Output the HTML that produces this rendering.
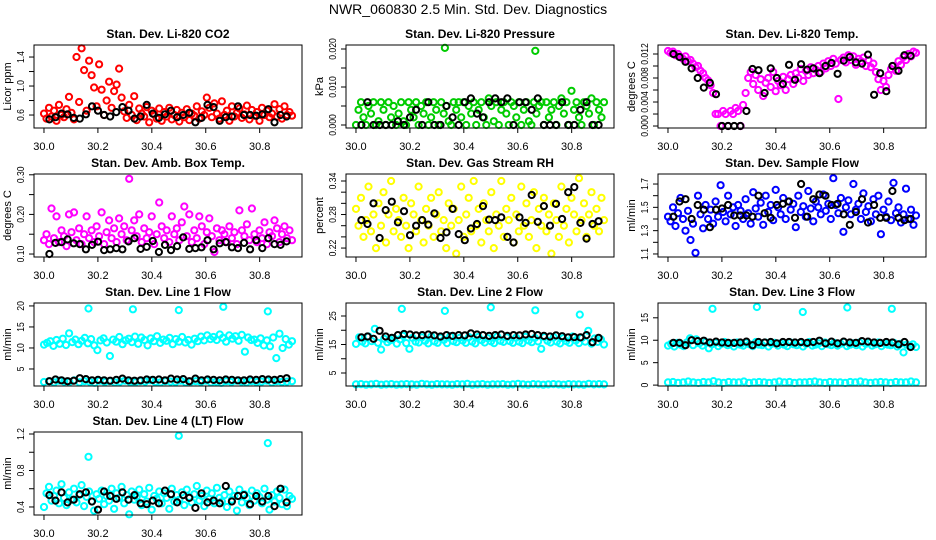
<!DOCTYPE html>
<html><head><meta charset="utf-8"><title>NWR_060830 diagnostics</title>
<style>
html,body{margin:0;padding:0;background:#fff;}
svg{display:block;font-family:"Liberation Sans",Arial,sans-serif;}
</style></head>
<body>
<svg id="chart" width="936" height="540" viewBox="0 0 936 540" xmlns="http://www.w3.org/2000/svg">
<rect x="0" y="0" width="936" height="540" fill="#fff"/>
<text x="468" y="14" text-anchor="middle" font-size="14">NWR_060830  2.5 Min. Std. Dev. Diagnostics</text>
</svg>
<script>
// ---------- data ----------
const xTicks=[30.0,30.2,30.4,30.6,30.8];
const xTickLabels=["30.0","30.2","30.4","30.6","30.8"];

const co2Main=[0.62,0.55,0.70,0.58,0.66,0.52,0.74,0.60,0.57,0.68,0.85,0.63,0.54,1.40,0.78,1.52,1.22,0.66,1.35,1.15,0.98,0.72,1.30,0.95,0.60,0.80,1.06,0.70,0.93,1.02,1.24,0.84,0.65,0.56,0.74,0.60,0.86,0.53,0.69,0.62,0.58,0.71,0.50,0.66,0.61,0.55,0.69,0.52,0.64,0.58,0.70,0.54,0.60,0.67,0.51,0.63,0.57,0.68,0.53,0.62,0.59,0.72,0.55,0.65,0.60,0.84,0.70,0.57,0.76,0.62,0.55,0.79,0.60,0.66,0.52,0.72,0.58,0.63,0.69,0.56,0.61,0.73,0.54,0.67,0.59,0.64,0.52,0.70,0.60,0.66,0.57,0.62,0.75,0.58,0.68,0.55,0.72,0.60,0.64,0.59];
const co2Black=[0.54,0.57,0.62,0.61,0.56,0.55,0.61,0.72,0.66,0.60,0.58,0.64,0.71,0.66,0.55,0.58,0.74,0.62,0.56,0.61,0.66,0.57,0.60,0.63,0.50,0.56,0.74,0.71,0.52,0.57,0.58,0.72,0.60,0.60,0.59,0.61,0.68,0.50,0.60,0.58];
const co2Ticks=[0.6,0.8,1.0,1.2,1.4];
const co2Labels=["0.6","","1.0","","1.4"];

const presMain=[0.000,0.004,0.006,0.002,0.000,0.005,0.003,0.006,0.000,0.001,0.006,0.004,0.000,0.006,0.002,0.005,0.000,0.003,0.006,0.001,0.000,0.006,0.004,0.002,0.006,0.000,0.005,0.003,0.006,0.000,0.002,0.006,0.004,0.000,0.006,0.003,0.005,0.001,0.000,0.006,0.004,0.006,0.002,0.006,0.000,0.005,0.003,0.006,0.000,0.004,0.006,0.002,0.000,0.007,0.005,0.001,0.006,0.000,0.004,0.006,0.003,0.000,0.006,0.005,0.002,0.006,0.000,0.004,0.006,0.001,0.000,0.006,0.003,0.005,0.006,0.000,0.006,0.002,0.004,0.006,0.000,0.005,0.007,0.003,0.006,0.000,0.009,0.004,0.006,0.002,0.000,0.006,0.005,0.003,0.007,0.000,0.006,0.004,0.002,0.006];
const presSpikeT=[30.33,30.665];
const presSpikeV=[0.0203,0.0195];
const presBlack=[0,0.006,0,0,0,0,0.001,0,0.002,0.004,0,0.006,0,0,0.005,0.002,0,0.006,0.007,0.003,0.002,0.006,0.007,0.006,0.007,0,0.006,0.006,0.004,0.007,0,0,0,0.006,0,0,0.004,0.006,0,0];
const presTicks=[0,0.005,0.010,0.015,0.020];
const presLabels=["0.000","","0.010","","0.020"];

const tempMain=[0.0125,0.0122,0.0124,0.0118,0.0120,0.0115,0.0112,0.0116,0.0108,0.0110,0.0104,0.0098,0.0100,0.0092,0.0088,0.0080,0.0076,0.0068,0.0055,0.0020,0.0020,0.0000,0.0025,0.0020,0.0000,0.0025,0.0020,0.0030,0.0025,0.0000,0.0035,0.0055,0.0080,0.0090,0.0070,0.0085,0.0060,0.0078,0.0050,0.0072,0.0080,0.0065,0.0090,0.0058,0.0075,0.0068,0.0082,0.0060,0.0078,0.0085,0.0070,0.0088,0.0080,0.0095,0.0075,0.0092,0.0085,0.0098,0.0088,0.0094,0.0100,0.0090,0.0104,0.0096,0.0108,0.0100,0.0112,0.0104,0.0045,0.0110,0.0114,0.0106,0.0118,0.0110,0.0116,0.0102,0.0112,0.0108,0.0114,0.0100,0.0110,0.0098,0.0104,0.0090,0.0078,0.0060,0.0075,0.0065,0.0085,0.0095,0.0100,0.0092,0.0108,0.0102,0.0115,0.0110,0.0120,0.0116,0.0124,0.0122];
const tempBlack=[0.0120,0.0115,0.0107,0.0096,0.0080,0.0064,0.0072,0.0053,0.0000,0.0000,0.0000,0.0000,0.0025,0.0095,0.0093,0.0055,0.0096,0.0080,0.0070,0.0102,0.0077,0.0103,0.0094,0.0096,0.0088,0.0100,0.0105,0.0087,0.0109,0.0115,0.0106,0.0104,0.0119,0.0052,0.0088,0.0058,0.0100,0.0092,0.0118,0.0117];
const tempTicks=[0,0.002,0.004,0.006,0.008,0.010,0.012];
const tempLabels=["0.000","","0.004","","0.008","","0.012"];

const ambMain=[0.135,0.150,0.125,0.215,0.140,0.195,0.130,0.160,0.145,0.120,0.200,0.155,0.205,0.135,0.165,0.125,0.150,0.195,0.140,0.160,0.130,0.170,0.145,0.205,0.125,0.155,0.185,0.140,0.165,0.130,0.190,0.150,0.170,0.135,0.290,0.160,0.185,0.145,0.200,0.130,0.165,0.140,0.155,0.195,0.125,0.150,0.230,0.170,0.140,0.160,0.130,0.195,0.150,0.165,0.135,0.180,0.220,0.145,0.200,0.130,0.160,0.140,0.195,0.170,0.125,0.155,0.190,0.145,0.105,0.165,0.135,0.160,0.150,0.130,0.170,0.140,0.155,0.125,0.210,0.160,0.145,0.175,0.135,0.215,0.150,0.130,0.160,0.140,0.180,0.125,0.155,0.145,0.185,0.165,0.130,0.150,0.170,0.140,0.160,0.135];
const ambBlack=[0.100,0.128,0.130,0.137,0.127,0.125,0.112,0.123,0.131,0.110,0.112,0.115,0.112,0.132,0.140,0.113,0.118,0.133,0.105,0.123,0.110,0.120,0.142,0.113,0.115,0.117,0.135,0.112,0.127,0.130,0.117,0.115,0.128,0.112,0.135,0.115,0.140,0.125,0.123,0.132];
const ambTicks=[0.10,0.15,0.20,0.25,0.30];
const ambLabels=["0.10","","0.20","","0.30"];

const rhMain=[0.29,0.26,0.31,0.24,0.27,0.33,0.25,0.28,0.22,0.30,0.26,0.32,0.23,0.28,0.34,0.25,0.29,0.27,0.24,0.31,0.26,0.22,0.30,0.28,0.25,0.33,0.27,0.23,0.29,0.26,0.31,0.24,0.28,0.32,0.25,0.27,0.22,0.30,0.26,0.29,0.21,0.27,0.33,0.24,0.28,0.31,0.25,0.34,0.26,0.29,0.23,0.30,0.27,0.25,0.32,0.22,0.28,0.26,0.34,0.24,0.29,0.27,0.31,0.23,0.28,0.25,0.33,0.26,0.30,0.24,0.27,0.32,0.22,0.29,0.26,0.31,0.25,0.28,0.21,0.30,0.27,0.24,0.33,0.26,0.29,0.23,0.31,0.28,0.25,0.345,0.27,0.30,0.24,0.28,0.32,0.26,0.29,0.25,0.31,0.27];
const rhBlack=[0.270,0.263,0.300,0.238,0.288,0.303,0.266,0.286,0.243,0.260,0.270,0.262,0.282,0.238,0.248,0.290,0.245,0.234,0.255,0.263,0.295,0.271,0.270,0.275,0.240,0.230,0.275,0.265,0.315,0.267,0.295,0.260,0.299,0.272,0.320,0.329,0.265,0.237,0.263,0.268];
const rhTicks=[0.22,0.24,0.26,0.28,0.30,0.32,0.34];
const rhLabels=["0.22","","","0.28","","","0.34"];

const flowMain=[1.42,1.38,1.50,1.34,1.45,1.58,1.40,1.30,1.47,1.22,1.36,1.11,1.60,1.44,1.32,1.52,1.40,1.48,1.36,1.55,1.42,1.69,1.46,1.38,1.60,1.44,1.50,1.34,1.52,1.47,1.40,1.57,1.45,1.36,1.63,1.49,1.42,1.54,1.35,1.60,1.46,1.52,1.39,1.65,1.50,1.44,1.58,1.40,1.55,1.48,1.53,1.33,1.60,1.46,1.51,1.42,1.64,1.49,1.38,1.55,1.50,1.44,1.61,1.47,1.53,1.40,1.75,1.52,1.45,1.58,1.29,1.50,1.56,1.44,1.70,1.48,1.53,1.40,1.62,1.46,1.51,1.38,1.57,1.44,1.60,1.27,1.48,1.42,1.55,1.39,1.71,1.45,1.50,1.37,1.44,1.66,1.40,1.48,1.35,1.43];
const flowBlack=[1.42,1.55,1.57,1.40,1.52,1.48,1.33,1.48,1.49,1.52,1.43,1.43,1.43,1.42,1.60,1.45,1.41,1.52,1.53,1.55,1.41,1.70,1.42,1.57,1.61,1.60,1.52,1.53,1.44,1.35,1.46,1.57,1.37,1.52,1.41,1.41,1.64,1.41,1.39,1.40];
const flowTicks=[1.1,1.2,1.3,1.4,1.5,1.6,1.7];
const flowLabels=["1.1","","1.3","","1.5","","1.7"];

const line1Upper=[10.8,11.2,11.6,10.5,11.9,11.0,12.2,10.7,13.5,11.4,12.0,10.9,11.7,12.4,11.1,12.1,10.6,9.5,11.8,12.3,11.3,8.1,12.0,11.5,12.6,10.9,11.8,12.2,11.4,12.7,11.0,12.5,11.9,10.6,12.3,11.6,12.8,11.2,12.0,11.7,12.4,10.9,12.1,11.5,12.6,11.3,11.9,10.8,12.2,11.6,12.7,11.8,13.0,12.1,12.6,11.9,13.2,12.4,11.5,13.0,12.2,12.8,11.7,13.1,9.1,12.5,11.9,12.0,11.2,12.3,10.6,11.8,10.4,12.5,7.6,13.4,10.0,12.1,10.8,11.6];
const line1Lower=[1.9,2.1,1.8,2.2,2.0,1.9,2.3,1.8,2.1,2.0,1.7,2.2,1.9,2.1,1.8,2.0,2.2,1.9,1.8,2.1,2.0,2.3,1.9,1.8,2.1,2.0,1.9,2.2,1.8,2.0,2.1,1.9,2.2,1.8,2.0,1.7,2.1,1.9,2.2,2.0,1.8,2.1,1.9,2.0,2.2,1.8,2.1,1.9,2.0,2.1];
const line1SpikeT=[30.165,30.33,30.50,30.665,30.83];
const line1SpikeV=[19.4,19.2,19.0,19.8,18.7];
const line1Black=[2.1,2.5,2.3,2.1,2.2,2.8,2.6,2.3,2.4,2.3,2.2,2.4,2.7,2.3,2.2,2.3,2.5,2.4,2.5,2.3,2.7,2.5,2.6,2.1,2.7,2.3,2.5,2.4,2.3,2.5,2.4,2.3,2.3,2.5,2.4,2.6,2.5,2.4,2.6,2.8];
const line1Ticks=[5,10,15,20];
const line1Labels=["5","10","15","20"];

const line2Upper=[15.2,17.5,16.0,15.4,17.8,16.2,20.5,15.6,13.2,17.0,15.8,16.5,17.2,15.3,16.8,18.0,15.5,13.5,17.3,16.0,15.7,17.5,16.3,15.4,17.8,16.1,15.6,17.4,16.6,15.5,17.9,16.2,15.8,17.3,16.4,15.6,17.6,16.0,15.4,17.7,16.5,15.7,17.2,16.1,15.5,17.8,16.3,15.9,17.5,16.2,15.6,17.4,16.0,15.5,17.7,16.4,15.8,17.3,16.1,13.5,17.6,16.3,15.7,17.5,16.0,15.4,17.2,16.2,15.6,17.8,16.4,15.5,17.3,16.0,19.8,15.3,17.1,15.9,16.8,15.0];
const line2Lower=[1.0,1.1,0.9,1.0,1.2,0.9,1.0,1.1,0.9,1.0,1.1,1.0,0.9,1.2,1.0,0.9,1.1,1.0,1.0,0.9,1.1,1.0,1.2,0.9,1.0,1.1,0.9,1.0,1.0,1.1,0.9,1.0,1.2,1.0,0.9,1.1,1.0,0.9,1.0,1.1,1.0,0.9,1.1,1.0,1.0,0.9,1.2,1.0,1.1,1.0];
const line2SpikeT=[30.17,30.33,30.50,30.665,30.83];
const line2SpikeV=[27.5,26.8,28.0,27.0,25.5];
const line2Black=[17.5,17.8,17.0,19.8,17.8,17.3,18.3,18.7,18.5,18.2,18.3,18.5,18.2,17.8,18.3,18.0,18.3,18.2,18.9,18.5,18.3,18.0,18.3,18.5,18.0,18.3,18.2,18.5,18.7,18.3,18.0,17.8,18.2,17.9,17.5,17.6,17.5,18.3,15.8,17.3];
const line2Ticks=[5,10,15,20,25];
const line2Labels=["5","","15","","25"];

const line3Upper=[8.8,9.2,8.6,9.4,9.0,8.7,9.5,10.4,8.9,10.2,9.3,8.8,9.6,8.2,9.1,9.4,8.7,9.2,9.6,8.9,9.3,8.6,9.5,9.0,8.8,9.4,9.1,8.7,9.6,9.0,8.9,9.5,8.6,9.2,9.4,8.8,9.3,9.0,8.7,9.5,9.1,8.9,9.4,8.6,9.2,9.6,8.8,9.0,9.3,8.7,9.5,9.1,8.9,9.4,8.8,9.2,9.6,8.7,9.0,9.3,8.9,9.5,8.6,9.2,9.4,8.8,9.1,9.5,8.7,9.3,9.0,8.9,9.4,8.6,9.2,7.3,9.0,8.8,9.1,8.5];
const line3Lower=[0.6,0.7,0.5,0.6,0.8,0.6,0.5,0.7,0.6,0.9,0.6,0.5,0.7,0.6,0.6,0.8,0.5,0.6,0.7,0.6,0.5,0.6,0.8,0.6,0.7,0.5,0.6,0.6,0.7,0.8,0.6,0.5,0.7,0.6,0.6,0.5,0.7,0.6,0.8,0.6,0.5,0.6,0.7,0.6,0.5,0.7,0.6,0.6,0.8,0.6];
const line3SpikeT=[30.165,30.33,30.50,30.665,30.83];
const line3SpikeV=[17.0,17.4,16.3,17.3,17.0];
const line3Black=[9.4,9.4,8.9,10.0,9.8,9.9,9.5,9.7,9.5,9.4,9.4,9.5,9.7,8.9,9.6,9.5,9.6,9.3,9.6,9.6,9.5,9.6,9.4,9.6,9.9,9.3,9.7,9.3,9.7,9.5,9.4,9.8,9.7,9.5,9.4,9.6,9.5,9.1,9.6,8.5];
const line3Ticks=[0,5,10,15];
const line3Labels=["0","5","10","15"];

const line4Main=[0.40,0.55,0.62,0.47,0.52,0.58,0.44,0.65,0.50,0.42,0.56,0.48,0.60,0.45,0.53,0.64,0.41,0.51,0.57,0.46,0.36,0.54,0.49,0.58,0.43,0.52,0.47,0.60,0.38,0.55,0.50,0.62,0.44,0.53,0.32,0.57,0.48,0.51,0.59,0.42,0.54,0.46,0.61,0.37,0.52,0.49,0.57,0.44,0.55,0.50,0.38,0.60,0.46,0.53,0.48,0.56,0.42,0.59,0.51,0.45,0.54,0.63,0.47,0.52,0.41,0.58,0.49,0.55,0.44,0.61,0.50,0.46,0.53,0.40,0.57,0.48,0.52,0.36,0.59,0.45,0.54,0.50,0.42,0.58,0.47,0.55,0.51,0.44,0.60,0.48,0.37,0.53,0.46,0.57,0.50,0.43,0.59,0.41,0.52,0.49];
const line4SpikeT=[30.165,30.50,30.83];
const line4SpikeV=[0.95,1.18,1.10];
const line4Black=[0.53,0.47,0.56,0.45,0.48,0.54,0.56,0.46,0.37,0.57,0.52,0.49,0.56,0.48,0.53,0.44,0.43,0.47,0.44,0.58,0.54,0.45,0.53,0.50,0.39,0.55,0.45,0.47,0.44,0.63,0.46,0.52,0.53,0.43,0.52,0.46,0.52,0.41,0.60,0.45];
const line4Ticks=[0.4,0.6,0.8,1.0,1.2];
const line4Labels=["0.4","","0.8","","1.2"];

// ---------- rendering ----------
const NS="http://www.w3.org/2000/svg";
const svg=document.getElementById("chart");
const COLS=[34,346,658], ROWS=[45,174,303,432], W=268, H=83;
const XMIN=29.963, XMAX=30.957;
function xScale(L,t){return L+(t-XMIN)/(XMAX-XMIN)*W;}
function yScale(T,lo,hi,v){return T+(hi-v)/(hi-lo)*H;}
function spaced(n,a,b){const o=[];for(let i=0;i<n;i++)o.push(a+(b-a)*i/(n-1));return o;}
function mk(tag,attrs,parent){const e=document.createElementNS(NS,tag);for(const k in attrs)e.setAttribute(k,attrs[k]);(parent||svg).appendChild(e);return e;}

function drawPoints(g,L,T,lo,hi,ts,vs,color,name){
  for(let i=0;i<vs.length;i++){
    const c=mk("circle",{cx:xScale(L,ts[i]).toFixed(1),cy:yScale(T,lo,hi,vs[i]).toFixed(1),r:3.1,fill:"none",stroke:color,"stroke-width":2},g);
    
    
  }
}

function panel(p){
  const L=COLS[p.c], T=ROWS[p.r], B=T+H;
  const g=mk("g",{});
  
  
  const title=mk("text",{x:L+W/2,y:T-7,"text-anchor":"middle","font-size":12,"font-weight":"bold"},g);
  title.textContent=p.title;
  
  
  p.series.forEach(s=>drawPoints(g,L,T,p.lo,p.hi,s.t,s.v,s.color,p.id+'-'+s.name+'-point'));
  const fr=mk("rect",{x:L,y:T,width:W,height:H,fill:"none",stroke:"#000","stroke-width":1},g);
  
  
  const xa=mk("g",{},g);
  
  
  xTicks.forEach((t,i)=>{
    const x=xScale(L,t);
    mk("line",{x1:x,y1:B,x2:x,y2:B+5,stroke:"#000"},xa);
    const tx=mk("text",{x:x,y:B+22,"text-anchor":"middle","font-size":11},xa);
    tx.textContent=xTickLabels[i];
    
    
  });
  const ya=mk("g",{},g);
  
  
  p.ticks.forEach((v,i)=>{
    const y=yScale(T,p.lo,p.hi,v);
    mk("line",{x1:L-5,y1:y,x2:L,y2:y,stroke:"#000"},ya);
    if(p.labels[i]){
      const tx=mk("text",{x:0,y:0,"text-anchor":"middle","font-size":10.5,transform:`translate(${L-10},${y}) rotate(-90) scale(0.82,1)`},ya);
      tx.textContent=p.labels[i];
      
      
    }
  });
  const yl=mk("text",{x:0,y:0,"text-anchor":"middle","font-size":11,transform:`translate(${L-23},${T+H/2}) rotate(-90)`},g);
  yl.textContent=p.ylab;
  
  
}

const T100=n=>spaced(n,30.0,30.92);
const TB=n=>spaced(n,30.02,30.90);
const CY="#00ffff", BK="#000000";

panel({id:"co2",c:0,r:0,title:"Stan. Dev. Li-820 CO2",ylab:"Licor ppm",lo:0.421,hi:1.566,ticks:co2Ticks,labels:co2Labels,
  series:[{name:"main",t:T100(co2Main.length),v:co2Main,color:"#ff0000"},{name:"black",t:TB(co2Black.length),v:co2Black,color:BK}]});
panel({id:"pressure",c:1,r:0,title:"Stan. Dev. Li-820 Pressure",ylab:"kPa",lo:-0.00079,hi:0.02105,ticks:presTicks,labels:presLabels,
  series:[{name:"main",t:T100(presMain.length),v:presMain,color:"#00cc00"},{name:"spike",t:presSpikeT,v:presSpikeV,color:"#00cc00"},{name:"black",t:TB(presBlack.length),v:presBlack,color:BK}]});
panel({id:"temp",c:2,r:0,title:"Stan. Dev. Li-820 Temp.",ylab:"degrees C",lo:-0.00033,hi:0.0135,ticks:tempTicks,labels:tempLabels,
  series:[{name:"main",t:T100(tempMain.length),v:tempMain,color:"#ff00ff"},{name:"black",t:TB(tempBlack.length),v:tempBlack,color:BK}]});
panel({id:"ambbox",c:0,r:1,title:"Stan. Dev. Amb. Box Temp.",ylab:"degrees C",lo:0.0925,hi:0.302,ticks:ambTicks,labels:ambLabels,
  series:[{name:"main",t:T100(ambMain.length),v:ambMain,color:"#ff00ff"},{name:"black",t:TB(ambBlack.length),v:ambBlack,color:BK}]});
panel({id:"rh",c:1,r:1,title:"Stan. Dev. Gas Stream RH",ylab:"percent",lo:0.204,hi:0.3525,ticks:rhTicks,labels:rhLabels,
  series:[{name:"main",t:T100(rhMain.length),v:rhMain,color:"#ffff00"},{name:"black",t:TB(rhBlack.length),v:rhBlack,color:BK}]});
panel({id:"sampleflow",c:2,r:1,title:"Stan. Dev. Sample Flow",ylab:"ml/min",lo:1.074,hi:1.786,ticks:flowTicks,labels:flowLabels,
  series:[{name:"main",t:T100(flowMain.length),v:flowMain,color:"#0000ff"},{name:"black",t:TB(flowBlack.length),v:flowBlack,color:BK}]});
panel({id:"line1",c:0,r:2,title:"Stan. Dev. Line 1 Flow",ylab:"ml/min",lo:0.95,hi:20.7,ticks:line1Ticks,labels:line1Labels,
  series:[{name:"upper",t:T100(line1Upper.length),v:line1Upper,color:CY},{name:"lower",t:T100(line1Lower.length),v:line1Lower,color:CY},{name:"spike",t:line1SpikeT,v:line1SpikeV,color:CY},{name:"black",t:TB(line1Black.length),v:line1Black,color:BK}]});
panel({id:"line2",c:1,r:2,title:"Stan. Dev. Line 2 Flow",ylab:"ml/min",lo:0.44,hi:29.56,ticks:line2Ticks,labels:line2Labels,
  series:[{name:"upper",t:T100(line2Upper.length),v:line2Upper,color:CY},{name:"lower",t:T100(line2Lower.length),v:line2Lower,color:CY},{name:"spike",t:line2SpikeT,v:line2SpikeV,color:CY},{name:"black",t:TB(line2Black.length),v:line2Black,color:BK}]});
panel({id:"line3",c:2,r:2,title:"Stan. Dev. Line 3 Flow",ylab:"ml/min",lo:-0.2,hi:18.3,ticks:line3Ticks,labels:line3Labels,
  series:[{name:"upper",t:T100(line3Upper.length),v:line3Upper,color:CY},{name:"lower",t:T100(line3Lower.length),v:line3Lower,color:CY},{name:"spike",t:line3SpikeT,v:line3SpikeV,color:CY},{name:"black",t:TB(line3Black.length),v:line3Black,color:BK}]});
panel({id:"line4",c:0,r:3,title:"Stan. Dev. Line 4 (LT) Flow",ylab:"ml/min",lo:0.312,hi:1.222,ticks:line4Ticks,labels:line4Labels,
  series:[{name:"main",t:T100(line4Main.length),v:line4Main,color:CY},{name:"spike",t:line4SpikeT,v:line4SpikeV,color:CY},{name:"black",t:TB(line4Black.length),v:line4Black,color:BK}]});
</script>
</body></html>
